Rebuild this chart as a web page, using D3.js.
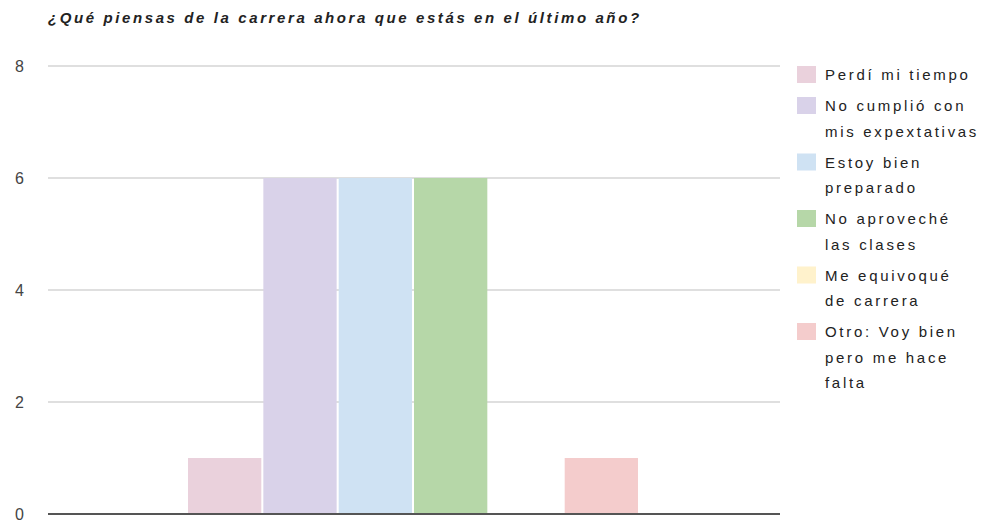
<!DOCTYPE html>
<html>
<head>
<meta charset="utf-8">
<script src="https://cdn.jsdelivr.net/npm/d3@7"></script>
<style>
  body { margin: 0; background: #fff; }
  svg { display: block; font-family: "Liberation Sans", Arial, sans-serif; }
</style>
</head>
<body>
<div id="chart"></div>
<script>
// chart data
const title = "¿Qué piensas de la carrera ahora que estás en el último año?";
const categories = [
  "Perdí mi tiempo",
  "No cumplió con mis expextativas",
  "Estoy bien preparado",
  "No aproveché las clases",
  "Me equivoqué de carrera",
  "Otro: Voy bien pero me hace falta"
];
// legend text wrapped the way the original shows it
const legendLines = [
  ["Perdí mi tiempo"],
  ["No cumplió con", "mis expextativas"],
  ["Estoy bien", "preparado"],
  ["No aproveché", "las clases"],
  ["Me equivoqué", "de carrera"],
  ["Otro: Voy bien", "pero me hace", "falta"]
];
const values = [1, 6, 6, 6, 0, 1];
const colors = ["#ead1dc", "#d9d2e9", "#cfe2f3", "#b6d7a8", "#fff2cc", "#f4cccc"];
const yTicks = [0, 2, 4, 6, 8];

const width = 982, height = 529;
var plot = { left: 48, right: 780, top: 66, bottom: 514 };

const svg = d3.select("#chart").append("svg")
  .attr("width", width)
  .attr("height", height);

// title
svg.append("text")
  .attr("x", 48)
  .attr("y", 23)
  .attr("font-size", 15)
  .attr("font-weight", "bold")
  .attr("font-style", "italic")
  .attr("letter-spacing", 2.6)
  .attr("fill", "#222")
  .text(title);

var y = d3.scaleLinear().domain([0, 8]).range([plot.bottom, plot.top]);

// one group near the middle of the plot, bars side by side
var groupW = 450;
var cx = 413;
var x = d3.scaleBand()
  .domain(categories)
  .range([cx - groupW / 2, cx + groupW / 2])
  .paddingInner(0.027)
  .paddingOuter(0);

// gridlines
svg.append("g")
  .selectAll("line")
  .data(yTicks.filter(d => d > 0))
  .enter().append("line")
  .attr("x1", plot.left)
  .attr("x2", plot.right)
  .attr("y1", d => y(d))
  .attr("y2", d => y(d))
  .attr("stroke", "#d4d4d4")
  .attr("stroke-width", 1.5);

// y axis labels
var yAxis = svg.append("g")
  .attr("transform", "translate(24,0)")
  .call(d3.axisLeft(y).tickValues(yTicks).tickSize(0).tickPadding(0));
yAxis.select(".domain").remove();
yAxis.selectAll("text")
  .attr("font-size", 16)
  .attr("font-family", "Liberation Sans, Arial, sans-serif")
  .attr("fill", "#444");

// bars
svg.append("g")
  .selectAll("rect")
  .data(values)
  .enter().append("rect")
  .attr("x", (d, i) => x(categories[i]))
  .attr("width", x.bandwidth())
  .attr("y", d => y(d))
  .attr("height", d => plot.bottom - y(d))
  .attr("fill", (d, i) => colors[i]);

// baseline
svg.append("line")
  .attr("x1", plot.left)
  .attr("x2", plot.right)
  .attr("y1", y(0))
  .attr("y2", y(0))
  .attr("stroke", "#555")
  .attr("stroke-width", 2);

// legend
var lineH = 25.5, itemGap = 31;
var legend = svg.append("g");
var ly = 75;
legendLines.forEach(function(lines, i) {
  var g = legend.append("g");
  g.append("rect")
    .attr("x", 797)
    .attr("y", ly - 9)
    .attr("width", 19)
    .attr("height", 17)
    .attr("fill", colors[i]);
  lines.forEach(function(t, j) {
    g.append("text")
      .attr("x", 825)
      .attr("y", ly + j * lineH)
      .attr("dy", "0.35em")
      .attr("font-size", 15)
      .attr("letter-spacing", 2.7)
      .attr("fill", "#222")
      .text(t);
  });
  ly += (lines.length - 1) * lineH + itemGap;
});
</script>
</body>
</html>
